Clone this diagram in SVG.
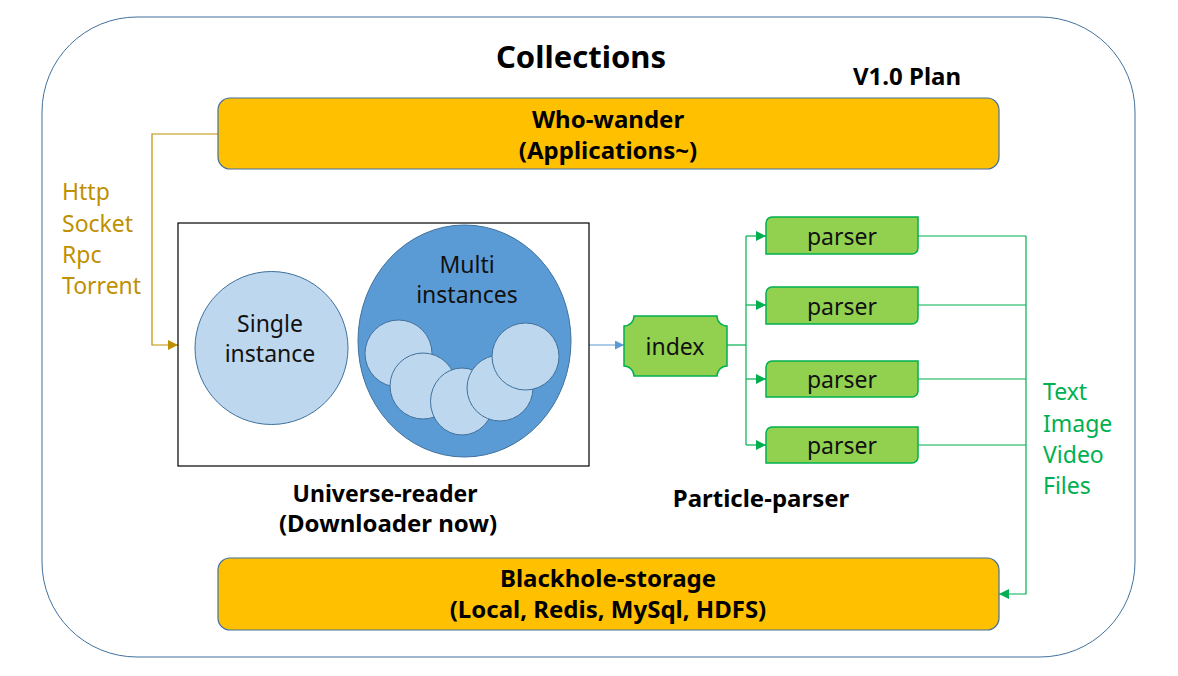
<svg xmlns="http://www.w3.org/2000/svg" width="1178" height="676" viewBox="0 0 1178 676">
<style>
.bold{font-family:"Noto Sans","Liberation Sans",sans-serif;font-weight:bold;fill:#000;text-anchor:middle}
.reg{font-family:"Noto Sans","Liberation Sans",sans-serif;font-size:23px;fill:#111;text-anchor:middle}
.orange{fill:#FFC000;stroke:#41719C;stroke-width:1.2}
.big{fill:#5B9BD5;stroke:#41719C;stroke-width:1}
.small{fill:#BDD7EE;stroke:#41719C;stroke-width:1}
.green{fill:#92D050;stroke:#00B050;stroke-width:1.5}
.gline{fill:none;stroke:#00B050;stroke-width:1.2}
</style>
<defs>
<marker id="ag" markerUnits="userSpaceOnUse" markerWidth="10" markerHeight="10" viewBox="0 0 10 10" refX="10" refY="5" orient="auto"><path d="M0,0 L10,5 L0,10 Z" fill="#00B050"/></marker>
<marker id="ay" markerUnits="userSpaceOnUse" markerWidth="10" markerHeight="10" viewBox="0 0 10 10" refX="10" refY="5" orient="auto"><path d="M0,0 L10,5 L0,10 Z" fill="#BF9000"/></marker>
<marker id="ab" markerUnits="userSpaceOnUse" markerWidth="9" markerHeight="9" viewBox="0 0 10 10" refX="10" refY="5" orient="auto"><path d="M0,0 L10,5 L0,10 Z" fill="#5B9BD5"/></marker>
</defs>
<rect width="1178" height="676" fill="#fff"/>
<g id="frame">
<rect x="42" y="17" width="1093" height="640" rx="95" ry="95" fill="none" stroke="#41719C" stroke-width="1"/>
<text class="bold" x="581" y="68" font-size="31">Collections</text>
<text class="bold" x="907" y="85" font-size="24">V1.0 Plan</text>
</g>
<g id="connectors">
<path d="M218 134 H152 V345 H178" fill="none" stroke="#BF9000" stroke-width="1.2" marker-end="url(#ay)"/>
<path d="M589 345 H624" fill="none" stroke="#5B9BD5" stroke-width="1.2" marker-end="url(#ab)"/>
<path class="gline" d="M727 345 H746"/>
<path class="gline" d="M746 236 V445"/>
<path class="gline" d="M746 236 H766" marker-end="url(#ag)"/>
<path class="gline" d="M746 305 H766" marker-end="url(#ag)"/>
<path class="gline" d="M746 379 H766" marker-end="url(#ag)"/>
<path class="gline" d="M746 445 H766" marker-end="url(#ag)"/>
<path class="gline" d="M918 236 H1026"/>
<path class="gline" d="M918 305 H1026"/>
<path class="gline" d="M918 379 H1026"/>
<path class="gline" d="M918 445 H1026"/>
<path class="gline" d="M1026 236 V594 H999" marker-end="url(#ag)"/>
<g font-family="Noto Sans, Liberation Sans, sans-serif" font-size="23" fill="#BF9000">
<text x="62" y="200">Http</text>
<text x="62" y="232">Socket</text>
<text x="62" y="263">Rpc</text>
<text x="62" y="294">Torrent</text>
</g>
<g font-family="Noto Sans, Liberation Sans, sans-serif" font-size="23" fill="#00B050">
<text x="1043" y="400">Text</text>
<text x="1043" y="432">Image</text>
<text x="1043" y="463">Video</text>
<text x="1043" y="494">Files</text>
</g>
</g>
<g id="who-wander">
<rect class="orange" x="218" y="98" width="781" height="71" rx="12" ry="12"/>
<text class="bold" x="608" y="128" font-size="24">Who-wander</text>
<text class="bold" x="608" y="159" font-size="24">(Applications~)</text>
</g>
<g id="universe-reader">
<rect x="178" y="223" width="411" height="243" fill="#fff" stroke="#000" stroke-width="1.2"/>
<text class="bold" x="385" y="502" font-size="23">Universe-reader</text>
<text class="bold" x="388" y="532" font-size="24">(Downloader now)</text>
</g>
<g id="single-instance">
<circle class="small" cx="271.5" cy="348" r="76.5"/>
<text class="reg" x="270" y="332">Single</text>
<text class="reg" x="270" y="362">instance</text>
</g>
<g id="multi-instances">
<ellipse class="big" cx="464.5" cy="341" rx="106.5" ry="116"/>
<text class="reg" x="467" y="273">Multi</text>
<text class="reg" x="467" y="303">instances</text>
<circle class="small" cx="398.5" cy="353.5" r="33.5"/>
<circle class="small" cx="423" cy="386" r="33"/>
<ellipse class="small" cx="462" cy="401.5" rx="31.5" ry="33.5"/>
<circle class="small" cx="500" cy="388" r="33"/>
<circle class="small" cx="525.5" cy="356.5" r="33.5"/>
</g>
<g id="index">
<path class="green" d="M634 316 H717 A10 10 0 0 0 727 326 V366 A10 10 0 0 0 717 376 H634 A10 10 0 0 0 624 366 V326 A10 10 0 0 0 634 316 Z"/>
<text class="reg" x="675" y="355">index</text>
</g>
<g id="parser1">
<path class="green" d="M772 217 H918 V248 A6 6 0 0 1 912 254 H766 V223 A6 6 0 0 1 772 217 Z"/>
<text class="reg" x="842" y="245">parser</text>
</g>
<g id="parser2">
<path class="green" d="M772 287 H918 V318 A6 6 0 0 1 912 324 H766 V293 A6 6 0 0 1 772 287 Z"/>
<text class="reg" x="842" y="315">parser</text>
</g>
<g id="parser3">
<path class="green" d="M772 361 H918 V391 A6 6 0 0 1 912 397 H766 V367 A6 6 0 0 1 772 361 Z"/>
<text class="reg" x="842" y="388">parser</text>
</g>
<g id="parser4">
<path class="green" d="M772 427 H918 V457 A6 6 0 0 1 912 463 H766 V433 A6 6 0 0 1 772 427 Z"/>
<text class="reg" x="842" y="454">parser</text>
</g>
<g id="particle-parser">
<text class="bold" x="761" y="507" font-size="24">Particle-parser</text>
</g>
<g id="blackhole-storage">
<rect class="orange" x="218" y="558" width="781" height="72" rx="12" ry="12"/>
<text class="bold" x="608" y="587" font-size="24">Blackhole-storage</text>
<text class="bold" x="608" y="618" font-size="24">(Local, Redis, MySql, HDFS)</text>
</g>
</svg>
